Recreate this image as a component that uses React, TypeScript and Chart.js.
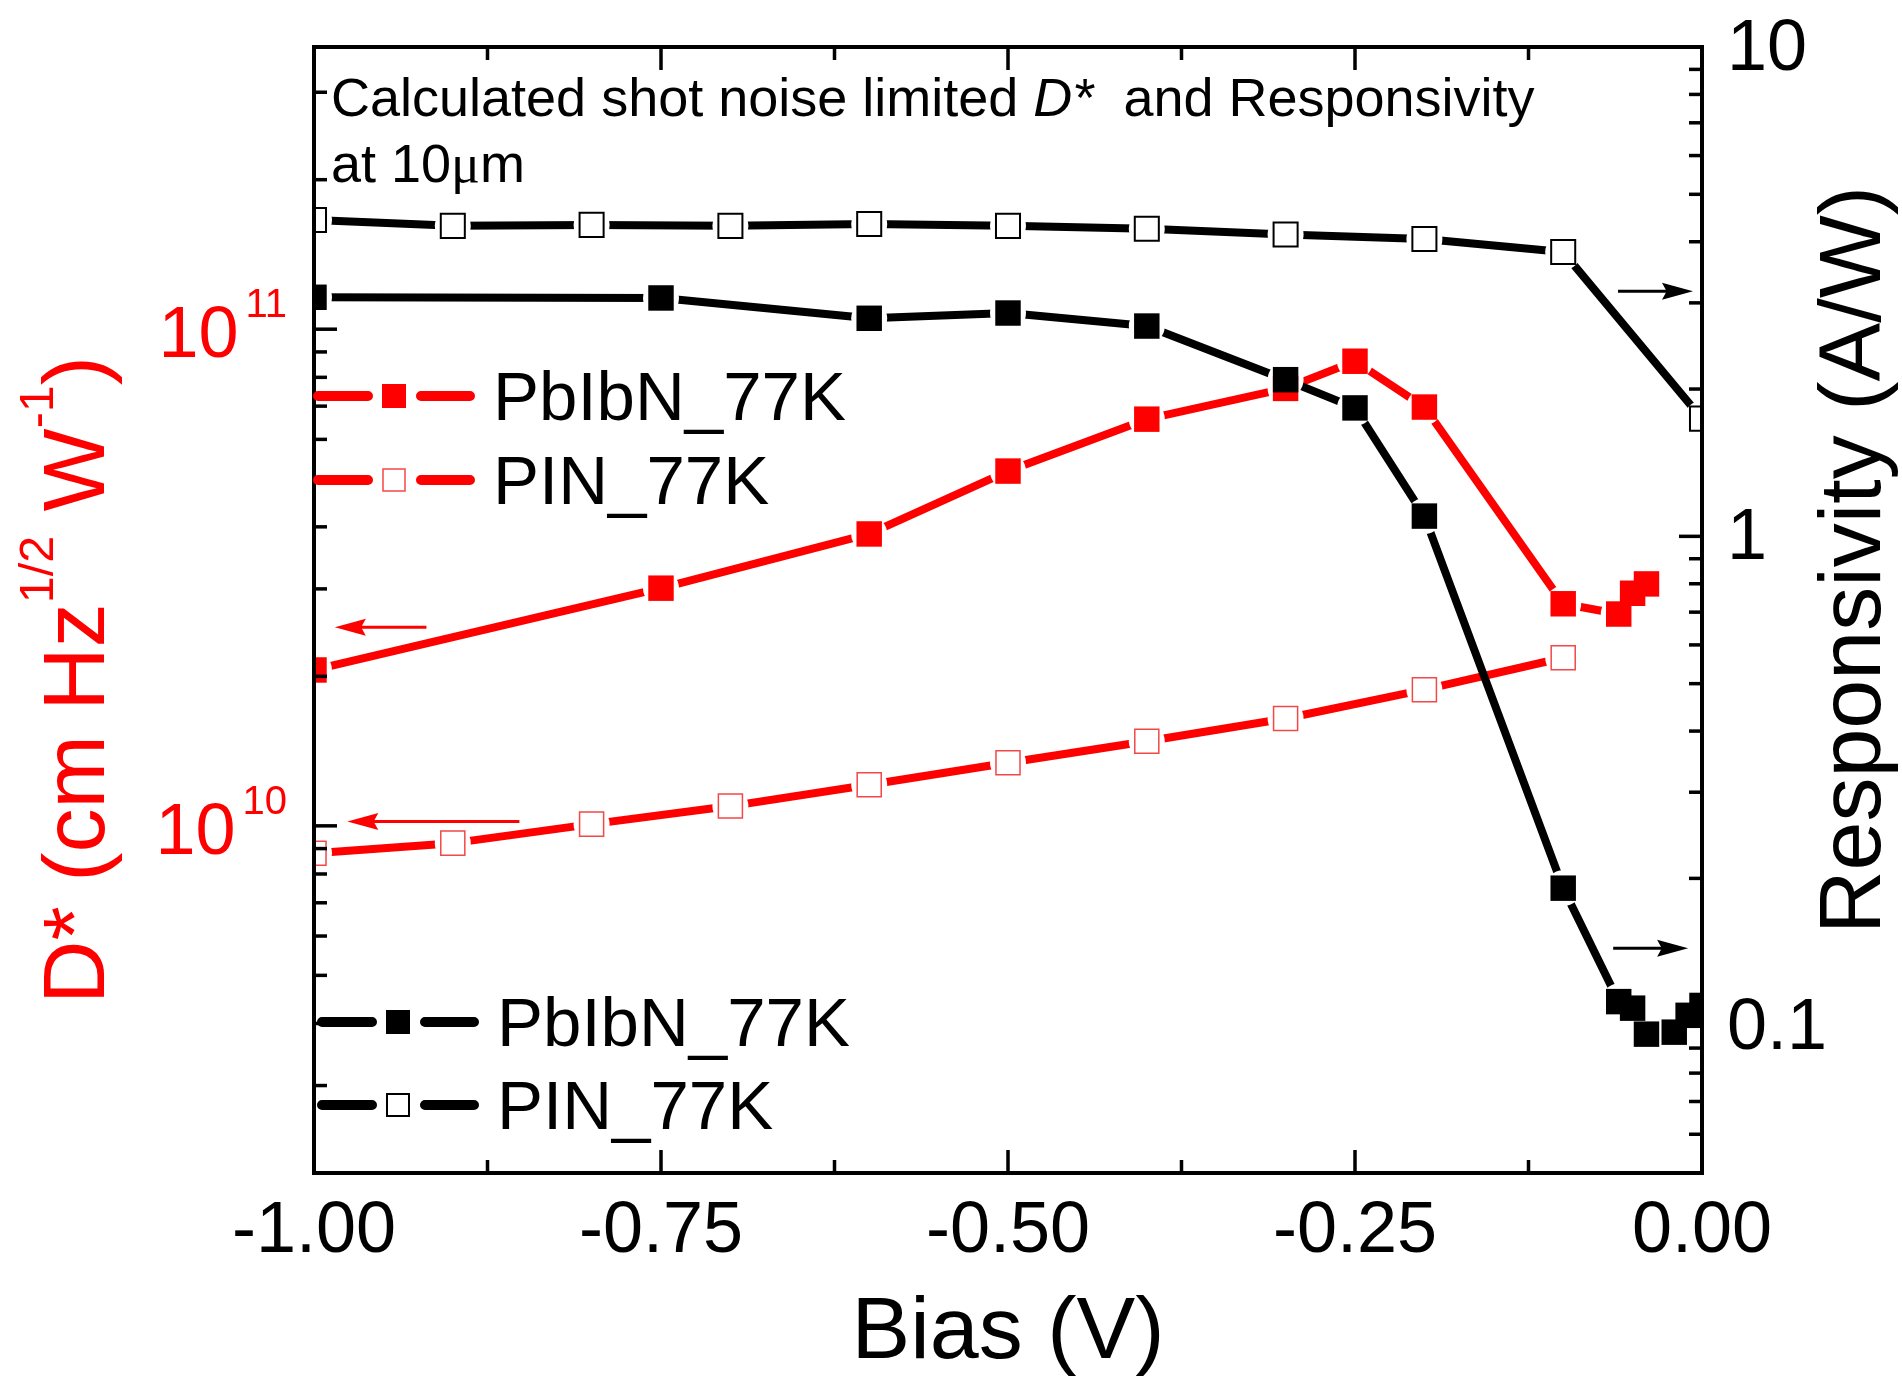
import { useEffect, useRef } from 'react';
import { Chart, registerables } from 'chart.js';

Chart.register(...registerables);

const SANS = '"Liberation Sans", Arial, Helvetica, sans-serif';
const SERIF = '"Liberation Serif", "Times New Roman", serif';
Chart.defaults.font.family = SANS;

// ---------- data ----------
// Responsivity (A/W), right axis
const biasPbIbNResp = [-1, -0.75, -0.6, -0.5, -0.4, -0.3, -0.25, -0.2, -0.1, -0.06, -0.05, -0.04, -0.02, -0.01, 0];
const respPbIbN = [3.08, 3.07, 2.79, 2.86, 2.69, 2.09, 1.83, 1.1, 0.191, 0.112, 0.1086, 0.0961, 0.097, 0.105, 0.11];
const biasPINResp = [-1, -0.9, -0.8, -0.7, -0.6, -0.5, -0.4, -0.3, -0.2, -0.1, 0];
const respPIN = [4.43, 4.31, 4.33, 4.31, 4.35, 4.31, 4.25, 4.14, 4.05, 3.81, 1.74];
// D* (cm Hz^1/2 W^-1), left axis
const biasPbIbND = [-1, -0.75, -0.6, -0.5, -0.4, -0.3, -0.25, -0.2, -0.1, -0.06, -0.05, -0.04];
const dStarPbIbN = [2.06e10, 3.01e10, 3.87e10, 5.18e10, 6.59e10, 7.6e10, 8.62e10, 6.97e10, 2.8e10, 2.67e10, 2.94e10, 3.07e10];
const biasPIND = [-1, -0.9, -0.8, -0.7, -0.6, -0.5, -0.4, -0.3, -0.2, -0.1];
const dStarPIN = [8.81e9, 9.23e9, 1.008e10, 1.096e10, 1.21e10, 1.34e10, 1.48e10, 1.645e10, 1.88e10, 2.18e10];

// ---------- axes / labels ----------
const xTickLabels = ['-1.00', '-0.75', '-0.50', '-0.25', '0.00'];
const dStarDecades = [1e10, 1e11];
const dStarExponents = ['10', '11'];
const respDecades = [0.1, 1, 10];
const respLabels = ['0.1', '1', '10'];
const seriesNames = ['PbIbN_77K', 'PIN_77K'];

// arrows pointing to the axis each group belongs to (data coordinates)
const dStarArrowFrom = [-0.919, -0.852];
const dStarArrowTo = [-0.985, -0.976];
const dStarArrowY = [2.51e10, 1.02e10];
const respArrowFrom = [-0.0605, -0.064];
const respArrowTo = [-0.0065, -0.01];
const respArrowY = [3.17, 0.144];

const RED = '#ff0000';
const OPEN_RED = '#f24848';
const BLACK = '#000000';

type Part = { t: string; sup?: boolean; it?: boolean; serif?: boolean };

function richWidth(ctx: CanvasRenderingContext2D, parts: Part[], size: number) {
  let w = 0;
  for (const p of parts) {
    const s = p.sup ? size * 0.55 : size;
    ctx.font = `${p.it ? 'italic ' : ''}${s}px ${p.serif ? SERIF : SANS}`;
    w += ctx.measureText(p.t).width;
  }
  return w;
}

function drawRich(ctx: CanvasRenderingContext2D, parts: Part[], x: number, y: number, size: number) {
  let cx = x;
  ctx.textAlign = 'left';
  ctx.textBaseline = 'alphabetic';
  for (const p of parts) {
    const s = p.sup ? size * 0.55 : size;
    ctx.font = `${p.it ? 'italic ' : ''}${s}px ${p.serif ? SERIF : SANS}`;
    ctx.fillText(p.t, cx, p.sup ? y - size * 0.58 : y);
    cx += ctx.measureText(p.t).width;
  }
}

function drawArrow(ctx: CanvasRenderingContext2D, x0: number, x1: number, y: number, color: string) {
  const dir = Math.sign(x1 - x0);
  const head = 31;
  const hw = 8.5;
  ctx.strokeStyle = color;
  ctx.fillStyle = color;
  ctx.lineWidth = 3;
  ctx.lineCap = 'butt';
  ctx.beginPath();
  ctx.moveTo(x0, y);
  ctx.lineTo(x1 - dir * head * 0.7, y);
  ctx.stroke();
  ctx.beginPath();
  ctx.moveTo(x1, y);
  ctx.lineTo(x1 - dir * head, y - hw);
  ctx.lineTo(x1 - dir * head * 0.85, y);
  ctx.lineTo(x1 - dir * head, y + hw);
  ctx.closePath();
  ctx.fill();
}

function drawLegend(
  ctx: CanvasRenderingContext2D,
  color: string,
  openColor: string,
  openWidth: number,
  x0: number,
  rows: number[],
) {
  rows.forEach((ry, i) => {
    ctx.strokeStyle = color;
    ctx.lineWidth = 10;
    ctx.lineCap = 'round';
    ctx.beginPath();
    ctx.moveTo(x0 + 5, ry);
    ctx.lineTo(x0 + 55, ry);
    ctx.moveTo(x0 + 108, ry);
    ctx.lineTo(x0 + 157, ry);
    ctx.stroke();
    const cx = x0 + 81;
    if (i === 0) {
      ctx.fillStyle = color;
      ctx.fillRect(cx - 12, ry - 12, 24, 24);
    } else {
      ctx.fillStyle = '#fff';
      ctx.fillRect(cx - 12, ry - 12, 24, 24);
      ctx.strokeStyle = openColor;
      ctx.lineWidth = openWidth;
      ctx.strokeRect(cx - 11, ry - 11, 22, 22);
    }
    ctx.fillStyle = BLACK;
    ctx.font = `69px ${SANS}`;
    ctx.textAlign = 'left';
    ctx.textBaseline = 'alphabetic';
    ctx.fillText(seriesNames[i], x0 + 180, ry + 24);
  });
}

const decorPlugin = {
  id: 'decor',
  afterDraw(chart: any) {
    const ctx: CanvasRenderingContext2D = chart.ctx;
    const a = chart.chartArea;
    const sx = chart.scales.x;
    const yl = chart.scales.y;
    const yr = chart.scales.y1;
    ctx.save();

    // frame
    ctx.strokeStyle = BLACK;
    ctx.lineWidth = 4;
    ctx.strokeRect(a.left, a.top, a.right - a.left, a.bottom - a.top);

    // inward ticks
    ctx.lineWidth = 3.5;
    ctx.lineCap = 'butt';
    const MAJ = 23;
    const MIN = 13;
    for (let k = 1; k < 8; k++) {
      const v = -1 + k * 0.125;
      const px = sx.getPixelForValue(v);
      const len = k % 2 === 0 ? MAJ : MIN;
      ctx.beginPath();
      ctx.moveTo(px, a.bottom);
      ctx.lineTo(px, a.bottom - len);
      ctx.moveTo(px, a.top);
      ctx.lineTo(px, a.top + len);
      ctx.stroke();
    }
    const logTicks = (scale: any, side: 'left' | 'right') => {
      const lo = Math.floor(Math.log10(scale.min));
      const hi = Math.ceil(Math.log10(scale.max));
      for (let e = lo; e <= hi; e++) {
        for (let m = 1; m <= 9; m++) {
          const v = m * Math.pow(10, e);
          if (v <= scale.min * 1.0001 || v >= scale.max * 0.9999) continue;
          const py = scale.getPixelForValue(v);
          const len = m === 1 ? MAJ : MIN;
          ctx.beginPath();
          if (side === 'left') {
            ctx.moveTo(a.left, py);
            ctx.lineTo(a.left + len, py);
          } else {
            ctx.moveTo(a.right, py);
            ctx.lineTo(a.right - len, py);
          }
          ctx.stroke();
        }
      }
    };
    logTicks(yl, 'left');
    logTicks(yr, 'right');

    // left tick labels 10^n (red)
    ctx.fillStyle = RED;
    ctx.textAlign = 'left';
    ctx.textBaseline = 'alphabetic';
    dStarDecades.forEach((v, i) => {
      const py = yl.getPixelForValue(v);
      ctx.font = `40px ${SANS}`;
      const sw = ctx.measureText(dStarExponents[i]).width;
      const supX = a.left - 27 - sw;
      ctx.fillText(dStarExponents[i], supX, py - 12);
      ctx.font = `72px ${SANS}`;
      const mw = ctx.measureText('10').width;
      ctx.fillText('10', supX - 7 - mw, py + 28);
    });

    // right tick labels
    ctx.fillStyle = BLACK;
    ctx.font = `72px ${SANS}`;
    respDecades.forEach((v, i) => {
      const py = yr.getPixelForValue(v);
      ctx.fillText(respLabels[i], a.right + 25, py + 23);
    });

    // x title
    ctx.font = `88px ${SANS}`;
    ctx.textAlign = 'center';
    ctx.fillText('Bias (V)', (a.left + a.right) / 2, 1358);

    // left title (red, rotated)
    const leftParts: Part[] = [
      { t: 'D* (cm Hz' },
      { t: '1/2', sup: true },
      { t: ' W' },
      { t: '-1', sup: true },
      { t: ')' },
    ];
    ctx.save();
    ctx.fillStyle = RED;
    ctx.translate(104, 680);
    ctx.rotate(-Math.PI / 2);
    const lw = richWidth(ctx, leftParts, 88);
    drawRich(ctx, leftParts, -lw / 2, 0, 88);
    ctx.restore();

    // right title
    ctx.save();
    ctx.fillStyle = BLACK;
    ctx.translate(1880, 560);
    ctx.rotate(-Math.PI / 2);
    ctx.font = `88px ${SANS}`;
    ctx.textAlign = 'center';
    ctx.fillText('Responsivity (A/W)', 0, 0);
    ctx.restore();

    // annotation
    ctx.fillStyle = BLACK;
    drawRich(
      ctx,
      [{ t: 'Calculated shot noise limited ' }, { t: 'D*', it: true }, { t: '  and Responsivity' }],
      a.left + 17,
      a.top + 69,
      54,
    );
    drawRich(ctx, [{ t: 'at 10' }, { t: 'μ', serif: true }, { t: 'm' }], a.left + 17, a.top + 135, 54);

    // legends
    drawLegend(ctx, RED, OPEN_RED, 1.5, a.left - 1, [396, 480]);
    drawLegend(ctx, BLACK, BLACK, 2, a.left + 3, [1022, 1105]);

    // arrows
    dStarArrowY.forEach((v, i) => {
      drawArrow(ctx, sx.getPixelForValue(dStarArrowFrom[i]), sx.getPixelForValue(dStarArrowTo[i]), yl.getPixelForValue(v), RED);
    });
    respArrowY.forEach((v, i) => {
      drawArrow(ctx, sx.getPixelForValue(respArrowFrom[i]), sx.getPixelForValue(respArrowTo[i]), yr.getPixelForValue(v), BLACK);
    });

    ctx.restore();
  },
};

function pts(xs: number[], ys: number[]) {
  return xs.map((x, i) => ({ x, y: ys[i] }));
}

function lineDs(xs: number[], ys: number[], axis: string, color: string, order: number) {
  return {
    type: 'line',
    data: pts(xs, ys),
    yAxisID: axis,
    borderColor: color,
    borderWidth: 8,
    borderCapStyle: 'round',
    borderJoinStyle: 'round',
    pointStyle: 'circle',
    pointRadius: 18,
    pointHoverRadius: 18,
    pointBackgroundColor: '#ffffff',
    pointBorderWidth: 0,
    tension: 0,
    fill: false,
    order,
    clip: 0,
  };
}

function markerDs(
  xs: number[],
  ys: number[],
  axis: string,
  fill: string,
  border: string,
  bw: number,
  r: number,
  order: number,
) {
  return {
    type: 'line',
    data: pts(xs, ys),
    yAxisID: axis,
    showLine: false,
    borderColor: border,
    pointStyle: 'rect',
    pointRadius: r,
    pointHoverRadius: r,
    pointBackgroundColor: fill,
    pointBorderColor: border,
    pointBorderWidth: bw,
    order,
    clip: 0,
  };
}

export default function App() {
  const ref = useRef<HTMLCanvasElement | null>(null);
  useEffect(() => {
    if (!ref.current) return;
    const chart = new Chart(ref.current, {
      type: 'line',
      data: {
        datasets: [
          lineDs(biasPIND, dStarPIN, 'y', RED, 14),
          lineDs(biasPbIbND, dStarPbIbN, 'y', RED, 13),
          lineDs(biasPINResp, respPIN, 'y1', BLACK, 12),
          lineDs(biasPbIbNResp, respPbIbN, 'y1', BLACK, 11),
          markerDs(biasPIND, dStarPIN, 'y', '#ffffff', OPEN_RED, 1.5, 17, 4),
          markerDs(biasPbIbND, dStarPbIbN, 'y', RED, RED, 0, 18, 3),
          markerDs(biasPINResp, respPIN, 'y1', '#ffffff', BLACK, 2, 17, 2),
          markerDs(biasPbIbNResp, respPbIbN, 'y1', BLACK, BLACK, 0, 18, 1),
        ] as any,
      },
      options: {
        animation: false,
        responsive: false,
        devicePixelRatio: 1,
        events: [],
        layout: { padding: { top: 47, left: 0, right: 0, bottom: 0 } },
        plugins: {
          legend: { display: false },
          tooltip: { enabled: false },
          title: { display: false },
        },
        scales: {
          x: {
            type: 'linear',
            position: 'bottom',
            min: -1,
            max: 0,
            grid: { display: false, drawTicks: false },
            border: { display: false },
            ticks: {
              stepSize: 0.25,
              autoSkip: false,
              maxRotation: 0,
              color: BLACK,
              padding: 23,
              font: { family: SANS, size: 72, lineHeight: 1 },
              callback: (_v: any, i: number) => xTickLabels[i],
            },
            afterFit: (s: any) => {
              s.height = 207;
            },
          },
          y: {
            type: 'logarithmic',
            position: 'left',
            min: 2e9,
            max: 3.7e11,
            grid: { display: false, drawTicks: false },
            border: { display: false },
            ticks: { display: false },
            afterFit: (s: any) => {
              s.width = 314;
            },
          },
          y1: {
            type: 'logarithmic',
            position: 'right',
            min: 0.05,
            max: 10,
            grid: { display: false, drawTicks: false },
            border: { display: false },
            ticks: { display: false },
            afterFit: (s: any) => {
              s.width = 200;
            },
          },
        },
      } as any,
      plugins: [decorPlugin],
    });
    return () => chart.destroy();
  }, []);

  return (
    <div style={{ position: 'absolute', left: 0, top: 0, width: 1902, height: 1380, background: '#fff' }}>
      <canvas ref={ref} width={1902} height={1380} style={{ display: 'block', width: 1902, height: 1380 }} />
    </div>
  );
}
